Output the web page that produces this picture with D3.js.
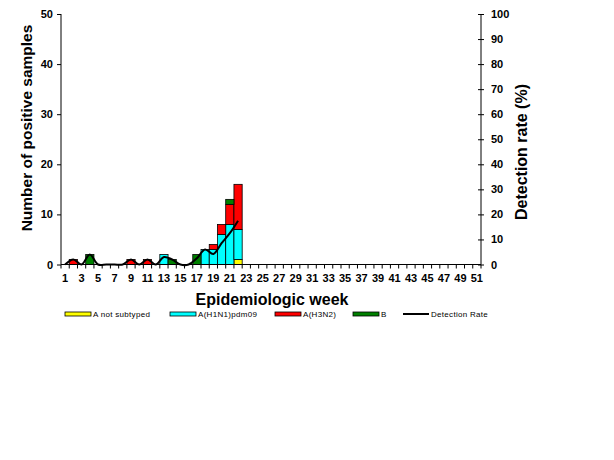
<!DOCTYPE html>
<html lang="en">
<head>
  <meta charset="UTF-8">
  <title>Influenza positives by week</title>
  <script src="https://d3js.org/d3.v7.min.js"></script>
  <style>
    body { margin: 0; background: #fff; }
    text { font-family: "Liberation Sans", Arial, sans-serif; }
  </style>
</head>
<body>
<script>
// weeks 1..51 on the category axis, data only for 1..22
var weeks = d3.range(1, 52);
var dataWeeks = d3.range(1, 23);
var notSubtyped = [0,0,0,0,0,0,0,0,0,0,0,0,0,0,0,0,0,0,0,0,0,1];
var h1n1        = [0,0,0,0,0,0,0,0,0,0,0,0,2,0,0,0,0,3,3,6,8,6];
var h3n2        = [0,1,0,0,0,0,0,0,1,0,1,0,0,0,0,0,0,0,1,2,4,9];
var fluB        = [0,0,0,2,0,0,0,0,0,0,0,0,0,1,0,0,2,0,0,0,1,0];
var detectionRate = [0,2,0,4,0,0,0,0,2,0,2,0,3,2,0,0,2.5,6,4.2,8.5,12.5,17.5];

var seriesNames = ["A not subtyped", "A(H1N1)pdm09", "A(H3N2)", "B"];
var seriesColors = ["#ffff00", "#00ffff", "#ff0000", "#008000"];

var width = 614, height = 460;
var plotLeft = 61, plotRight = 481, plotTop = 14, plotBottom = 264.5;

var svg = d3.select("body").append("svg")
    .attr("width", width)
    .attr("height", height);

svg.append("rect").attr("width", width).attr("height", height).attr("fill", "#fff");

var x = d3.scaleBand().domain(weeks).range([plotLeft, plotRight]).padding(0);
var y = d3.scaleLinear().domain([0, 50]).range([plotBottom, plotTop]);
var y2 = d3.scaleLinear().domain([0, 100]).range([plotBottom, plotTop]);

// build a table for the stack
var table = dataWeeks.map(function(w, i) {
  return {week: w, s0: notSubtyped[i], s1: h1n1[i], s2: h3n2[i], s3: fluB[i]};
});
var stack = d3.stack().keys(["s0", "s1", "s2", "s3"]);
var layers = stack(table);

svg.append("g").selectAll("g")
  .data(layers)
  .join("g")
    .attr("fill", function(d, i) { return seriesColors[i]; })
  .selectAll("rect")
  .data(function(d) { return d.filter(function(p) { return p[1] > p[0]; }); })
  .join("rect")
    .attr("x", function(d) { return x(d.data.week); })
    .attr("width", x.bandwidth())
    .attr("y", function(d) { return y(d[1]); })
    .attr("height", function(d) { return y(d[0]) - y(d[1]); })
    .attr("stroke", "#000")
    .attr("stroke-width", 0.8);

// detection rate line
var line = d3.line()
    .x(function(d, i) { return x(dataWeeks[i]) + x.bandwidth() / 2; })
    .y(function(d) { return y2(d); })
    .curve(d3.curveCatmullRom.alpha(0.5));

svg.append("path")
    .datum(detectionRate)
    .attr("fill", "none")
    .attr("stroke", "#000")
    .attr("stroke-width", 2)
    .attr("d", line);

// left axis
var yAxis = d3.axisLeft(y).tickValues(d3.range(0, 51, 10)).tickSize(4).tickPadding(4);
var gy = svg.append("g").attr("transform", "translate(" + plotLeft + ",0)").call(yAxis);

// right axis, ticks cross the line
var yAxis2 = d3.axisRight(y2).tickValues(d3.range(0, 101, 10)).tickSize(3).tickPadding(7);
var gy2 = svg.append("g").attr("transform", "translate(" + plotRight + ",0)").call(yAxis2);
gy2.selectAll(".tick line").attr("x1", -3);

// bottom axis: ticks at category boundaries, labels on odd weeks
var gx = svg.append("g").attr("transform", "translate(0," + plotBottom + ")");
gx.append("line").attr("x1", plotLeft).attr("x2", plotRight).attr("stroke", "#000");
gx.selectAll("line.tk")
  .data(weeks.concat([52]))
  .join("line")
    .attr("class", "tk")
    .attr("x1", function(d) { return d === 52 ? plotRight : x(d); })
    .attr("x2", function(d) { return d === 52 ? plotRight : x(d); })
    .attr("y1", 0).attr("y2", 4)
    .attr("stroke", "#000");
gx.selectAll("text")
  .data(weeks.filter(function(d) { return d % 2 === 1; }))
  .join("text")
    .attr("x", function(d) { return x(d) + x.bandwidth() / 2; })
    .attr("y", 17)
    .attr("text-anchor", "middle")
    .attr("font-size", 11)
    .attr("font-weight", "bold")
    .text(function(d) { return d; });

[gy, gy2].forEach(function(g) {
  g.select(".domain").attr("stroke", "#000").attr("d", "M0," + plotTop + "V" + plotBottom);
  g.selectAll(".tick line").attr("stroke", "#000");
  g.selectAll(".tick text")
    .attr("font-size", 11)
    .attr("font-weight", "bold")
    .attr("fill", "#000")
    .style("font-family", "'Liberation Sans', Arial, sans-serif");
});

// axis titles
svg.append("text")
    .attr("x", (plotLeft + plotRight) / 2 + 1)
    .attr("y", 305)
    .attr("text-anchor", "middle")
    .attr("font-size", 16)
    .attr("font-weight", "bold")
    .text("Epidemiologic week");

svg.append("text")
    .attr("transform", "translate(32,128) rotate(-90)")
    .attr("text-anchor", "middle")
    .attr("font-size", 15.5)
    .attr("font-weight", "bold")
    .text("Number of positive samples");

svg.append("text")
    .attr("transform", "translate(527,152) rotate(-90)")
    .attr("text-anchor", "middle")
    .attr("font-size", 16)
    .attr("font-weight", "bold")
    .text("Detection rate (%)");

// legend
var legendNames = seriesNames.concat(["Detection Rate"]);
var legendX = [65, 170, 275, 353, 403];
var legend = svg.append("g").attr("transform", "translate(0,314)");
legendNames.forEach(function(name, i) {
  var g = legend.append("g").attr("transform", "translate(" + legendX[i] + ",0)");
  if (i < 4) {
    g.append("rect").attr("x", 0).attr("y", -2).attr("width", 26).attr("height", 4)
      .attr("fill", seriesColors[i]).attr("stroke", "#000").attr("stroke-width", 0.8);
  } else {
    g.append("line").attr("x1", 0).attr("x2", 26).attr("stroke", "#000").attr("stroke-width", 2);
  }
  g.append("text")
    .attr("x", 28)
    .attr("y", 3)
    .attr("font-size", 8)
    .attr("letter-spacing", 0.3)
    .text(name);
});
</script>
</body>
</html>
